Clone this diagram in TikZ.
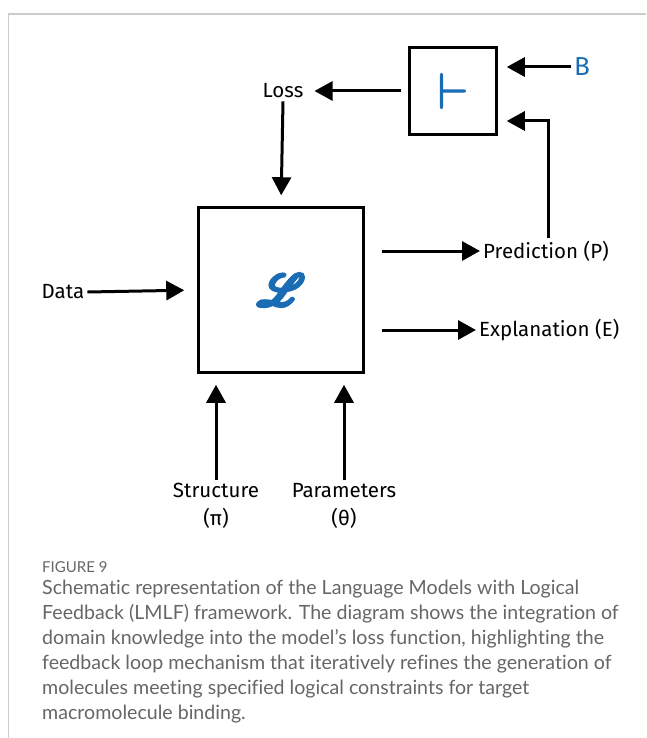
\documentclass[tikz,border=0pt]{standalone}
\usepackage{fontspec}
\usepackage{mathrsfs}
\setmainfont{Fira Sans}
\newfontfamily\capfont[Ligatures=NoCommon]{Lato}
\definecolor{logic-blue}{HTML}{1A6DB5}
\definecolor{frame-gray}{gray}{0.8}
\definecolor{cap-gray}{gray}{0.4}
\usetikzlibrary{arrows.meta}
\newcommand*\heavy[3]{\scalebox{#1}{\special{pdf:literal 2 Tr #2 w 0.102 0.427 0.71 RG}#3\special{pdf:literal 0 Tr}}}
\newcommand*\scrL{\heavy{4.4}{0.9}{$\mathscr{L}$}}
\newcommand*\turn{\heavy{5}{0.22}{$\vdash$}}

\begin{document}
\begin{tikzpicture}[x=1pt,y=-1pt,
				box/.style={draw,line width=2.5pt,minimum size=#1,inner sep=0pt},
				tag/.style={font=\fontsize{20.5}{28}\selectfont,inner sep=3pt,align=center},
				arr/.style={line width=3pt,-{Triangle[length=18pt,width=19pt]}},
				sign/.style={text=logic-blue}]
				\useasboundingbox (0,0) rectangle (646,738);
				\draw[frame-gray,line width=1.2pt] (646,14) -- (8.5,14) -- (8.5,738);
				% boxes
				\node[box=87pt,sign] (turnstile) at (453,91) {\turn};
				\node[box=165pt,sign] (model) at (281,290) {\scrL};
				% labels
				\node[tag] (loss) at (283,91) {Loss};
				\node[tag,sign,anchor=west,font=\fontsize{26}{26}\selectfont] (bound) at (571,67) {B};
				\node[tag] (data) at (63,292) {Data};
				\node[tag,anchor=west] (pred) at (480,251) {Prediction (P)};
				\node[tag,anchor=west] (expl) at (476,330) {Explanation (E)};
				\node[tag] (struct) at (216,506) {Structure\\(π)};
				\node[tag] (param) at (344,506) {Parameters\\(θ)};
				% connectors
				\draw[arr,shorten <=7pt,shorten >=8pt] (turnstile.west) -- (loss.east);
				\draw[arr,shorten >=11pt] (loss.south) -- (model.north);
				\draw[arr,shorten >=13pt] (data.east) -- (model.west);
				\draw[arr,shorten <=17pt] (model.east |- pred.west) -- (pred.west);
				\draw[arr,shorten <=17pt] (model.east |- expl.west) -- (expl.west);
				\draw[arr,shorten >=11pt] (struct.north) -- (struct.north |- model.south);
				\draw[arr,shorten >=11pt] (param.north) -- (param.north |- model.south);
				\draw[arr,shorten >=9pt] (bound.west) -- (turnstile.east |- bound.west);
				\draw[arr,shorten >=9pt] ([xshift=2pt]pred.north) |- ([yshift=-30pt]turnstile.east);
				% caption
				\node[anchor=north west,inner sep=0pt,text=cap-gray,font=\capfont\fontsize{15}{18}\selectfont] (fig) at (42,561) {FIGURE 9};
				\node[anchor=north west,inner sep=0pt,align=left,text=cap-gray,font=\capfont\fontsize{19.6}{25}\selectfont] (caption) at (42,580)
				{Schematic representation of the Language Models with Logical\\
				Feedback (LMLF) framework. The diagram shows the integration of\\
				domain knowledge into the model’s loss function, highlighting the\\
				feedback loop mechanism that iteratively refines the generation of\\
				molecules meeting specified logical constraints for target\\
				macromolecule binding.};
				\end{tikzpicture}
\end{document}
